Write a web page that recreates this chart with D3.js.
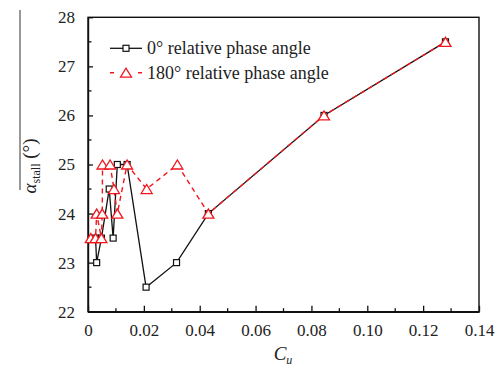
<!DOCTYPE html>
<html>
<head>
<meta charset="utf-8">
<script src="https://cdn.jsdelivr.net/npm/d3@7"></script>
<style>
  html, body { margin: 0; padding: 0; background: #fff; }
  svg { display: block; }
  svg text { fill: #222; }
</style>
</head>
<body>
<svg id="chart" width="504" height="369"></svg>
<script>
// Stall angle versus momentum coefficient for two actuator phase settings
const cmuPhase0   = [0.0027, 0.0031, 0.0048, 0.0076, 0.0090, 0.0105, 0.0140, 0.0208, 0.0317, 0.0431, 0.0845, 0.1280];
const alphaPhase0 = [23.5,   23.0,   23.5,   24.5,   23.5,   25.0,   25.0,   22.5,   23.0,   24.0,   26.0,   27.5];

const cmuPhase180   = [0.0010, 0.0027, 0.0031, 0.0048, 0.0051, 0.0052, 0.0079, 0.0093, 0.0105, 0.0140, 0.0210, 0.0320, 0.0431, 0.0845, 0.1280];
const alphaPhase180 = [23.5,   23.5,   24.0,   23.5,   24.0,   25.0,   25.0,   24.5,   24.0,   25.0,   24.5,   25.0,   24.0,   26.0,   27.5];

const xTicks = [0, 0.02, 0.04, 0.06, 0.08, 0.10, 0.12, 0.14];
const xTickLabels = ["0", "0.02", "0.04", "0.06", "0.08", "0.10", "0.12", "0.14"];
const yTicks = [22, 23, 24, 25, 26, 27, 28];
const legendLabels = ["0\u00B0 relative phase angle", "180\u00B0 relative phase angle"];

const svg = d3.select("#chart");
const plotL = 88, plotR = 479, plotT = 17.3, plotB = 311.7;

const x = d3.scaleLinear().domain([0, 0.14]).range([plotL, plotR]);
const y = d3.scaleLinear().domain([22, 28]).range([plotB, plotT]);

const red = "#f0161c";
const serif = "Liberation Serif, DejaVu Serif";

// frame
svg.append("rect")
  .attr("x", plotL).attr("y", plotT)
  .attr("width", plotR - plotL).attr("height", plotB - plotT)
  .attr("fill", "none").attr("stroke", "#111").attr("stroke-width", 1.4);

// bottom axis: inward major and minor ticks
const xAxis = d3.axisBottom(x)
  .tickValues(xTicks)
  .tickSizeInner(-6).tickSizeOuter(0)
  .tickPadding(12)
  .tickFormat((d, i) => xTickLabels[i]);
const gx = svg.append("g").attr("transform", `translate(0,${plotB})`).call(xAxis)
  .attr("font-family", serif).attr("font-size", 17);
gx.select(".domain").attr("stroke", "#111").attr("stroke-width", 1.4);
gx.selectAll(".tick line").attr("stroke", "#111").attr("stroke-width", 1.3);
gx.selectAll(".tick text").attr("fill", "#222");
gx.selectAll(".minor").data(d3.range(0.01, 0.14, 0.02)).enter().append("line")
  .attr("x1", d => x(d)).attr("x2", d => x(d))
  .attr("y1", 0).attr("y2", -3.5)
  .attr("stroke", "#111").attr("stroke-width", 1.3);

// left axis: inward major and minor ticks
const yAxis = d3.axisLeft(y)
  .tickValues(yTicks)
  .tickSizeInner(-5).tickSizeOuter(0)
  .tickPadding(13)
  .tickFormat(d3.format("d"));
const gy = svg.append("g").attr("transform", `translate(${plotL},0)`).call(yAxis)
  .attr("font-family", serif).attr("font-size", 17);
gy.select(".domain").attr("stroke", "#111").attr("stroke-width", 1.4);
gy.selectAll(".tick line").attr("stroke", "#111").attr("stroke-width", 1.3);
gy.selectAll(".tick text").attr("fill", "#222");
gy.selectAll(".minor").data(d3.range(22.5, 28, 1)).enter().append("line")
  .attr("x1", 0).attr("x2", 3.5)
  .attr("y1", d => y(d)).attr("y2", d => y(d))
  .attr("stroke", "#111").attr("stroke-width", 1.3);

// axis titles
const xt = svg.append("text")
  .attr("x", 283).attr("y", 360)
  .attr("text-anchor", "middle")
  .attr("font-family", serif)
  .attr("font-size", 19);
xt.append("tspan").attr("font-style", "italic").text("C");
xt.append("tspan").attr("font-style", "italic").attr("font-size", 12).attr("dy", 4).text("u");

const yt = svg.append("text")
  .attr("transform", "translate(36,166) rotate(-90)")
  .attr("text-anchor", "middle")
  .attr("font-family", serif)
  .attr("font-size", 19);
yt.append("tspan").attr("font-style", "italic").text("\u03B1");
yt.append("tspan").attr("font-size", 12).attr("dy", 4).text("stall");
yt.append("tspan").attr("dy", -4).text(" (\u00B0)");
// bar over the stall-angle symbol
svg.append("line")
  .attr("x1", 20).attr("x2", 20).attr("y1", 10).attr("y2", 190)
  .attr("stroke", "#333").attr("stroke-width", 1);

const line = d3.line().x(d => x(d[0])).y(d => y(d[1]));
const pts0 = cmuPhase0.map((c, i) => [c, alphaPhase0[i]]);
const pts180 = cmuPhase180.map((c, i) => [c, alphaPhase180[i]]);

const triPath = (cx, cy, w, h) =>
  `M${cx - w / 2},${cy + h / 2}L${cx + w / 2},${cy + h / 2}L${cx},${cy - h / 2}Z`;

// 0° series
svg.append("path").datum(pts0).attr("d", line)
  .attr("fill", "none").attr("stroke", "#111").attr("stroke-width", 1.3);
svg.selectAll(".sq").data(pts0).enter().append("rect")
  .attr("x", d => x(d[0]) - 3).attr("y", d => y(d[1]) - 3)
  .attr("width", 6).attr("height", 6)
  .attr("fill", "#fff").attr("stroke", "#111").attr("stroke-width", 1.2);

// 180° series
svg.append("path").datum(pts180).attr("d", line)
  .attr("fill", "none").attr("stroke", red).attr("stroke-width", 1.4)
  .attr("stroke-dasharray", "5,4");
svg.selectAll(".tri").data(pts180).enter().append("path")
  .attr("d", d => triPath(x(d[0]), y(d[1]), 11, 9))
  .attr("fill", "#fff").attr("stroke", red).attr("stroke-width", 1.3);

// legend
const lg = svg.append("g").attr("font-family", serif).attr("font-size", 18);
lg.append("line").attr("x1", 110).attr("x2", 142).attr("y1", 48.3).attr("y2", 48.3)
  .attr("stroke", "#111").attr("stroke-width", 1.3);
lg.append("rect").attr("x", 123).attr("y", 45.3).attr("width", 6).attr("height", 6)
  .attr("fill", "#fff").attr("stroke", "#111").attr("stroke-width", 1.2);
lg.append("line").attr("x1", 110).attr("x2", 142).attr("y1", 72.7).attr("y2", 72.7)
  .attr("stroke", red).attr("stroke-width", 1.4).attr("stroke-dasharray", "4,9,6,9,4");
lg.append("path").attr("d", triPath(126, 72.7, 11, 9))
  .attr("fill", "#fff").attr("stroke", red).attr("stroke-width", 1.3);
lg.selectAll(".lt").data(legendLabels).enter().append("text")
  .attr("x", 147).attr("y", (d, i) => 54.3 + i * 24.4)
  .text(d => d);
</script>
</body>
</html>
